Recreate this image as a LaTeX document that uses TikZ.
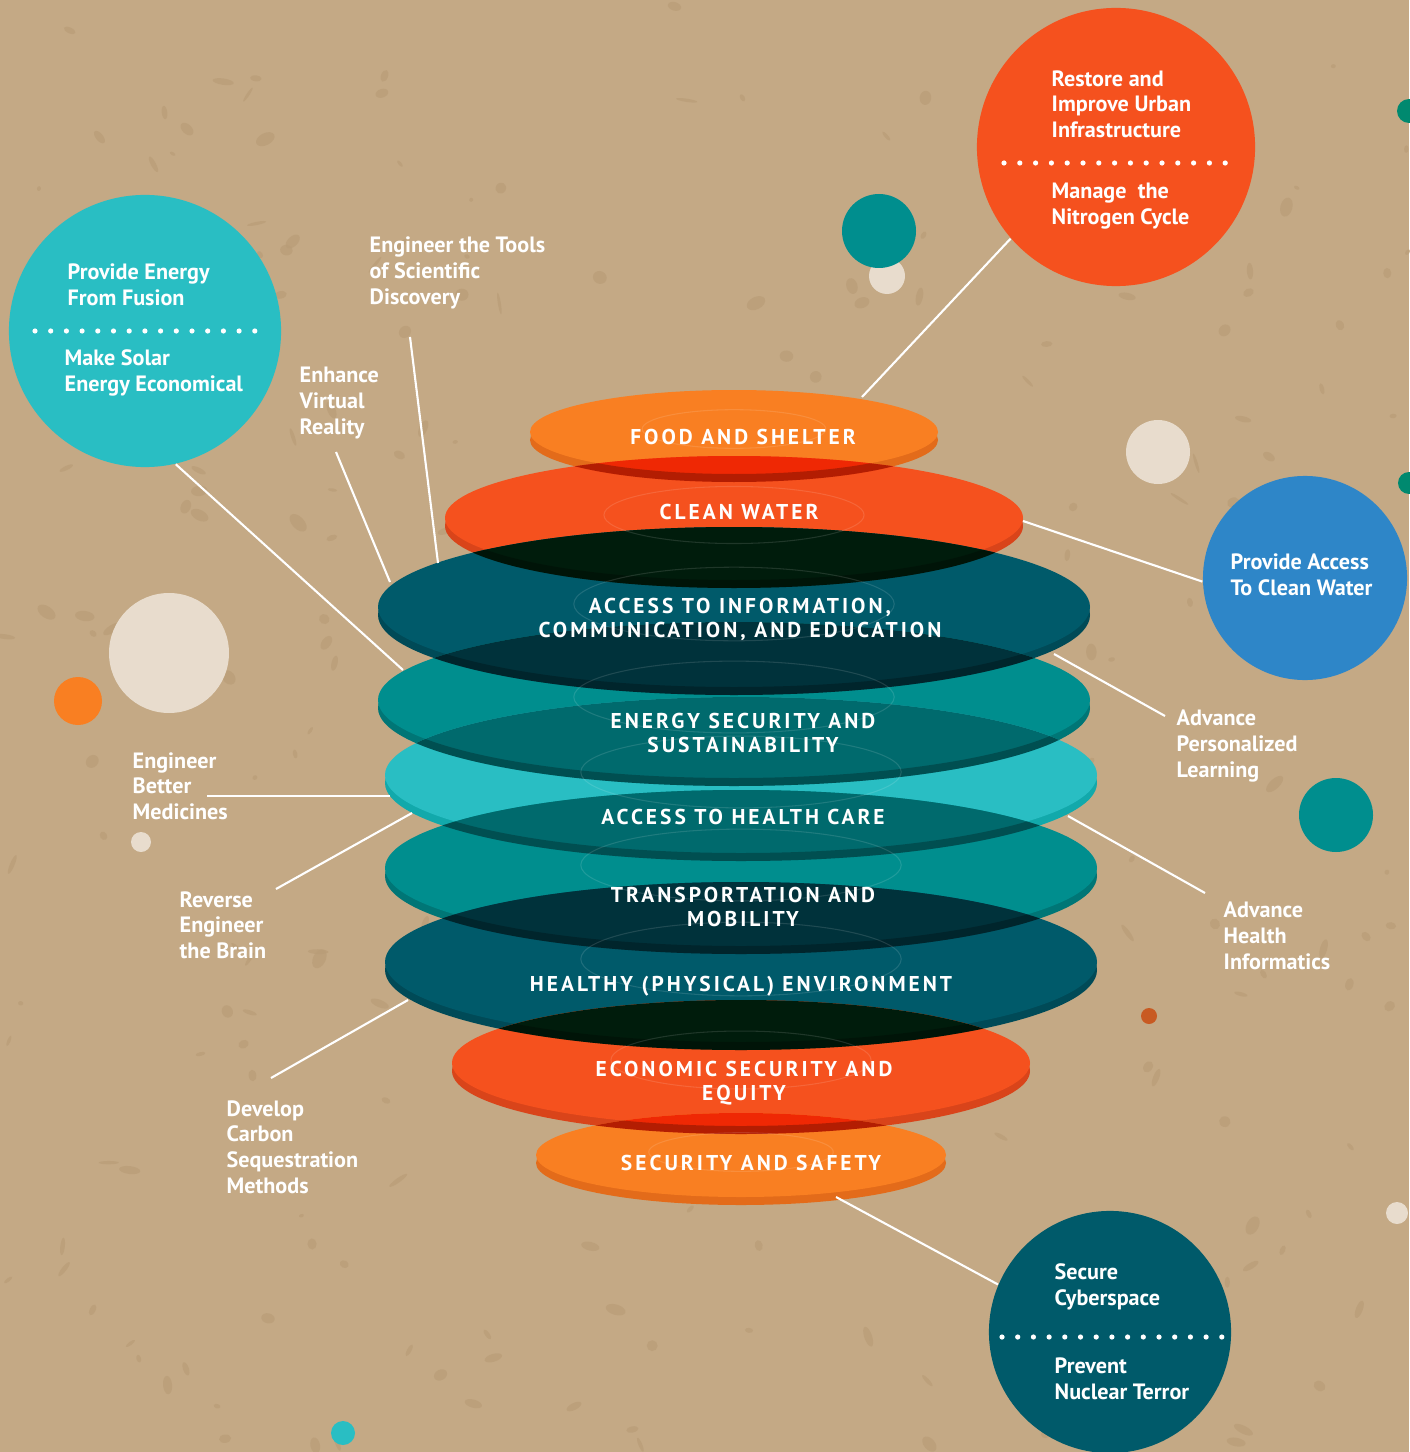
\documentclass[tikz,border=0pt]{standalone}
\usepackage{fontspec}
\setmainfont{PT Sans}
\newfontfamily\spacedfont{PT Sans}[LetterSpace=14]

\definecolor{sand}{HTML}{C4A985}
\definecolor{sanddark}{HTML}{B99D78}
\definecolor{foodc}{HTML}{F97F22}
\definecolor{foodrim}{HTML}{E36B1A}
\definecolor{waterc}{HTML}{F5511E}
\definecolor{waterrim}{HTML}{D9441A}
\definecolor{infoc}{HTML}{005A6A}
\definecolor{inforim}{HTML}{004A57}
\definecolor{energyc}{HTML}{008E8E}
\definecolor{energyrim}{HTML}{007676}
\definecolor{healthc}{HTML}{29BEC3}
\definecolor{healthrim}{HTML}{12A9AB}
\definecolor{ovred}{HTML}{EF2804}
\definecolor{ovblack}{HTML}{001C0C}
\definecolor{ovdeep}{HTML}{00323B}
\definecolor{ovteal}{HTML}{006A6D}
\definecolor{bluec}{HTML}{2E86C8}
\definecolor{pale}{HTML}{E8DCCD}
\definecolor{rust}{HTML}{C85A22}
\definecolor{pine}{HTML}{00896F}

\newcommand\goalfont{\bfseries\fontsize{6.3}{7.3}\selectfont}
\newcommand\layerfont{\spacedfont\bfseries\fontsize{6.1}{6.8}\selectfont}

\tikzset{
	bubble/.style={circle, inner sep=0pt},
	goal/.style={font=\goalfont, text=white, align=left, anchor=west, inner sep=0pt},
	layer/.style={font=\layerfont, text=white, align=center, inner sep=0pt},
	link/.style={draw=white, line width=0.6pt},
}

\begin{document}
\begin{tikzpicture}[x=0.01cm, y=-0.01cm]
	\useasboundingbox (0,0) rectangle (1409,1452);
	\fill[sand] (0,0) rectangle (1409,1452);

	% mottled ground
	\pgfmathsetseed{4242}
	\foreach \k in {1,...,260}{
		\pgfmathsetmacro\bx{rnd*1409}
		\pgfmathsetmacro\by{rnd*1452}
		\pgfmathsetmacro\ba{2+rnd*9}
		\pgfmathsetmacro\bb{1.5+rnd*5}
		\pgfmathsetmacro\bt{rnd*180}
		\fill[sanddark, opacity=.7, rotate around={\bt:(\bx,\by)}] (\bx,\by) ellipse [x radius=\ba, y radius=\bb];
	}

	% small decorative dots
	\foreach \px/\py/\r/\c in {887/276/18/pale, 879/231/37/energyc, 1158/452/32/pale,
		1409/111/12/pine, 1409/483/11/pine, 169/653/60/pale, 78/701/24/foodc,
		141/842/10/pale, 1336/815/37/energyc, 1149/1016/8/rust, 1397/1213/11/pale,
		343/1433/12/healthc}{
		\fill[\c] (\px,\py) circle [radius=\r];
	}

	% end points on the layers
	\coordinate (food-tip) at (862,397);
	\coordinate (water-tip) at (1023,521);
	\coordinate (info-tl) at (438,563);
	\coordinate (info-l) at (390,582);
	\coordinate (info-r) at (1054,654);
	\coordinate (energy-l) at (403,670);
	\coordinate (health-l) at (390,796);
	\coordinate (health-bl) at (412,813);
	\coordinate (health-r) at (1068,816);
	\coordinate (env-bl) at (408,1000);
	\coordinate (safety-tip) at (836,1197);
	\coordinate (tools-end) at (410,337);
	\coordinate (vr-end) at (336,452);
	\coordinate (meds-end) at (207,796);
	\coordinate (brain-end) at (276,889);
	\coordinate (carbon-end) at (271,1078);
	\coordinate (learning-end) at (1165,716);
	\coordinate (informatics-end) at (1205,893);

	% stacked layers
	\foreach \cx/\cy/\rx/\ry/\body/\edge in {
		734/432/204/42/foodc/foodrim,
		734/518/289/62/waterc/waterrim,
		734/607/356/80/infoc/inforim,
		734/700/356/78/energyc/energyrim,
		741/775/356/78/healthc/healthrim,
		741/868/356/78/energyc/energyrim,
		741/962/356/80/infoc/inforim,
		741/1063/289/63/waterc/waterrim,
		741/1155/205/42/foodc/foodrim}{
		\fill[\edge] (\cx,\cy+8) ellipse [x radius=\rx, y radius=\ry];
		\fill[\body] (\cx,\cy) ellipse [x radius=\rx, y radius=\ry];
	}

	% where two layers cross
	\foreach \ax/\ay/\arx/\ary/\bx/\by/\brx/\bry/\mix in {
		734/432/204/42/734/518/289/62/ovred,
		734/518/289/62/734/607/356/80/ovblack,
		734/607/356/80/734/700/356/78/ovdeep,
		734/700/356/78/741/775/356/78/ovteal,
		741/775/356/78/741/868/356/78/ovteal,
		741/868/356/78/741/962/356/80/ovdeep,
		741/962/356/80/741/1063/289/63/ovblack,
		741/1063/289/63/741/1155/205/42/ovred}{
		\begin{scope}
			\clip (\ax,\ay) ellipse [x radius=\arx, y radius=\ary]
				(\ax,\ay+8) ellipse [x radius=\arx, y radius=\ary];
			\fill[\mix] (\bx,\by) ellipse [x radius=\brx, y radius=\bry];
		\end{scope}
		\begin{scope}
			\clip (\bx,\by) ellipse [x radius=\brx, y radius=\bry];
			\fill[black, opacity=.25, even odd rule] (\ax,\ay+8) ellipse [x radius=\arx, y radius=\ary]
				(\ax,\ay) ellipse [x radius=\arx, y radius=\ary];
		\end{scope}
	}

	% faint inner rings
	\foreach \cx/\cy/\rx/\ry in {734/432/204/42, 734/518/289/62, 734/607/356/80,
		734/700/356/78, 741/775/356/78, 741/868/356/78, 741/962/356/80,
		741/1063/289/63, 741/1155/205/42}{
		\draw[white, opacity=.12, line width=.3pt] (\cx,\cy-3) ellipse [x radius=.45*\rx, y radius=.46*\ry];
	}

	% layer names
	\node[layer] (food) at (743,437) {FOOD AND SHELTER};
	\node[layer] (water) at (739,512) {CLEAN WATER};
	\node[layer] (info) at (740,619) {ACCESS TO INFORMATION,\\COMMUNICATION, AND EDUCATION};
	\node[layer] (energy) at (743,733) {ENERGY SECURITY AND\\SUSTAINABILITY};
	\node[layer] (health) at (743,817) {ACCESS TO HEALTH CARE};
	\node[layer] (transport) at (743,907) {TRANSPORTATION AND\\MOBILITY};
	\node[layer] (environment) at (741,986) {HEALTHY (PHYSICAL) ENVIRONMENT};
	\node[layer] (economy) at (744,1083) {ECONOMIC SECURITY AND\\EQUITY};
	\node[layer] (safety) at (751,1163) {SECURITY AND SAFETY};

	% connectors
	\draw[link] (tools-end) -- (info-tl);
	\draw[link] (vr-end) -- (info-l);
	\draw[link] (meds-end) -- (health-l);
	\draw[link] (brain-end) -- (health-bl);
	\draw[link] (carbon-end) -- (env-bl);
	\draw[link] (learning-end) -- (info-r);
	\draw[link] (informatics-end) -- (health-r);

	% big bubbles
	\node[bubble, fill=healthc, minimum size=2.72cm] (fusion) at (145,331) {};
	\node[bubble, fill=waterc, minimum size=2.78cm] (urban) at (1116,147) {};
	\node[bubble, fill=bluec, minimum size=2.04cm] (access) at (1305,578) {};
	\node[bubble, fill=infoc, minimum size=2.42cm] (cyber) at (1110,1332) {};

	\draw[link] (fusion.283) -- (energy-l);
	\draw[link] (urban.221) -- (food-tip);
	\draw[link] (access.182) -- (water-tip);
	\draw[link] (cyber.157) -- (safety-tip);

	% dotted separators
	\foreach \i in {0,...,14}{
		\fill[white] ({35+\i*15.7},331) circle [radius=2.6];
		\fill[white] ({1004+\i*15.8},163) circle [radius=2.6];
		\fill[white] ({1002+\i*15.7},1337) circle [radius=2.6];
	}

	% bubble texts
	\node[goal] (fusion-a) at (67,285) {Provide Energy\\From Fusion};
	\node[goal] (fusion-b) at (64,373) {Make Solar\\Energy Economical};
	\node[goal] (urban-a) at (1051,104) {Restore and\\Improve Urban\\Infrastructure};
	\node[goal] (urban-b) at (1051,206) {Manage\ \ the\\Nitrogen Cycle};
	\node[goal] (access-a) at (1230,575) {Provide Access\\To Clean Water};
	\node[goal] (cyber-a) at (1054,1287) {Secure\\Cyberspace};
	\node[goal] (cyber-b) at (1054,1379) {Prevent\\Nuclear Terror};

	% loose labels
	\node[goal] (tools) at (369,273) {Engineer the Tools\\of Scientific\\Discovery};
	\node[goal] (vr) at (299,403) {Enhance\\Virtual\\Reality};
	\node[goal] (meds) at (132,786) {Engineer\\Better\\Medicines};
	\node[goal] (brain) at (179,925) {Reverse\\Engineer\\the Brain};
	\node[goal] (carbon) at (226,1147) {Develop\\Carbon\\Sequestration\\Methods};
	\node[goal] (learning) at (1176,746) {Advance\\Personalized\\Learning};
	\node[goal] (informatics) at (1223,936) {Advance\\Health\\Informatics};
\end{tikzpicture}
\end{document}
